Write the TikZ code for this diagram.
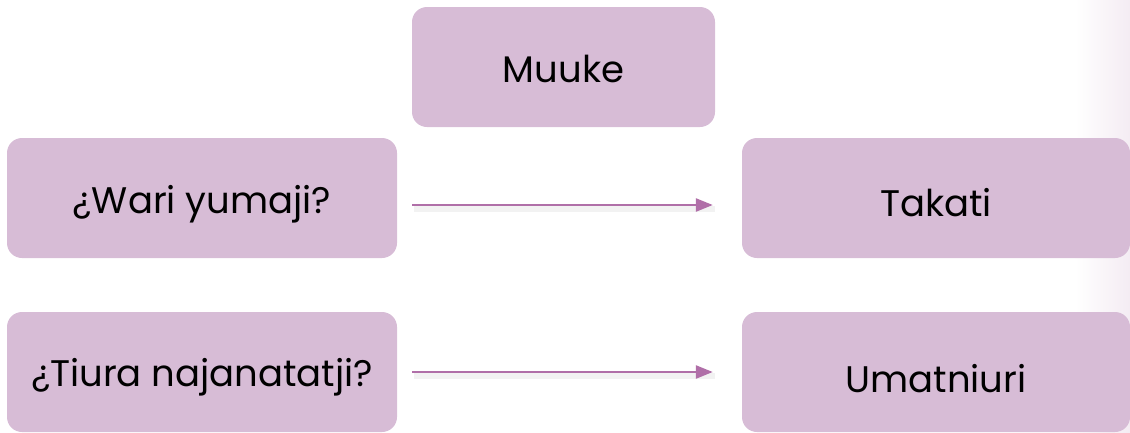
\documentclass[tikz,border=0pt]{standalone}
\usepackage{fontspec}
\setmainfont{Poppins}
\usetikzlibrary{arrows.meta}
\definecolor{boxfill}{HTML}{D7BCD6}
\definecolor{arrowcol}{HTML}{B06FA8}
\definecolor{edgetint}{HTML}{F4ECF3}
\newcommand{\lowtext}[2]{\raisebox{-#1}[\height][\depth]{#2}}
\tikzset{
  card/.style={fill=boxfill, draw=none, rounded corners=15pt, inner sep=0pt,
    font=\fontsize{37}{44}\selectfont, text=black},
  link/.style={draw=arrowcol, line width=2.5pt, -{Triangle[length=17pt,width=13pt]},
    shorten <=15pt, shorten >=29pt},
  linkshadow/.style={draw=black, opacity=0.05, line width=6pt, shorten <=17pt, shorten >=27pt}
}
\begin{document}
\begin{tikzpicture}[x=1pt,y=-1pt]
\useasboundingbox (0,0) rectangle (1130,432);
\shade[left color=white, right color=edgetint] (1075,0) rectangle (1130,432);
\node[card, minimum width=303pt, minimum height=120pt] (muuke) at (563.5,67) {\lowtext{2pt}{Muuke}};
\node[card, minimum width=390pt, minimum height=120pt] (wari) at (202,198) {\lowtext{6pt}{¿Wari yumaji?}};
\node[card, minimum width=388pt, minimum height=120pt] (takati) at (936,198) {\lowtext{5pt}{Takati}};
\node[card, minimum width=390pt, minimum height=120pt] (tiura) at (202,372) {\lowtext{5pt}{¿Tiura najanatatji?}};
\node[card, minimum width=388pt, minimum height=120pt] (umat) at (936,372) {\lowtext{7pt}{Umatniuri}};
\draw[linkshadow] ([yshift=-11pt]wari.east) -- ([yshift=-11pt]takati.west);
\draw[linkshadow] ([yshift=-4pt]tiura.east) -- ([yshift=-4pt]umat.west);
\draw[link] ([yshift=-7pt]wari.east) -- ([yshift=-7pt]takati.west);
\draw[link] (tiura.east) -- (umat.west);
\end{tikzpicture}
\end{document}
